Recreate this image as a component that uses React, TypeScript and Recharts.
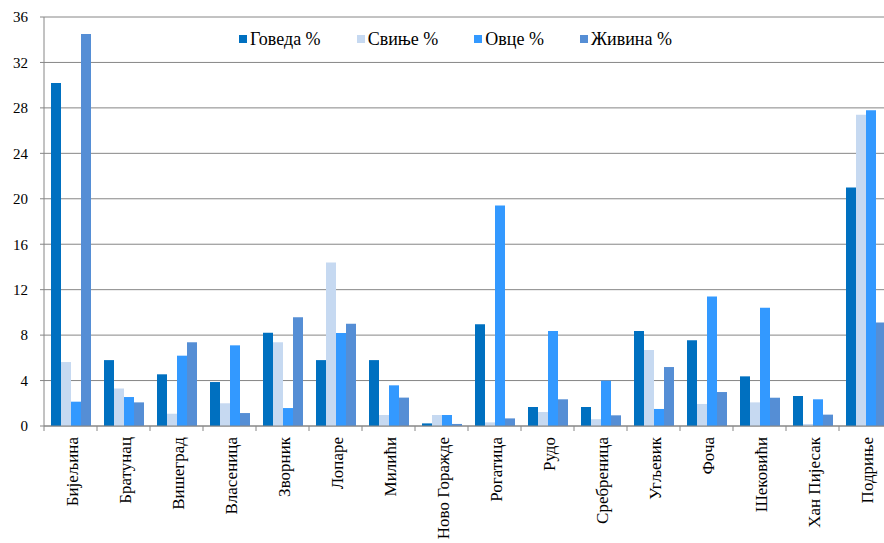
import { BarChart, Bar, XAxis, YAxis, CartesianGrid } from 'recharts';

const municipalities = [
  'Бијељина', 'Братунац', 'Вишеград', 'Власеница', 'Зворник', 'Лопаре', 'Милићи', 'Ново Горажде',
  'Рогатица', 'Рудо', 'Сребреница', 'Угљевик', 'Фоча', 'Шековићи', 'Хан Пијесак', 'Подриње',
];

const cattle = [30.2, 5.8, 4.55, 3.87, 8.2, 5.8, 5.8, 0.23, 8.95, 1.67, 1.67, 8.36, 7.54, 4.37, 2.64, 21.0];
const pigs = [5.63, 3.3, 1.08, 2.0, 7.37, 14.4, 0.97, 0.97, 0.32, 1.23, 0.6, 6.69, 1.94, 2.08, 0.18, 27.4];
const sheep = [2.14, 2.55, 6.19, 7.1, 1.58, 8.19, 3.58, 0.97, 19.4, 8.36, 3.99, 1.5, 11.4, 10.4, 2.35, 27.8];
const poultry = [34.5, 2.08, 7.37, 1.14, 9.57, 9.0, 2.5, 0.18, 0.67, 2.35, 0.94, 5.19, 2.99, 2.49, 1.0, 9.1];

const yTicks = [0, 4, 8, 12, 16, 20, 24, 28, 32, 36];

const series = [
  { key: 'cattle', name: 'Говеда %', color: '#0070C0' },
  { key: 'pigs', name: 'Свиње %', color: '#C6D9F1' },
  { key: 'sheep', name: 'Овце %', color: '#3399FF' },
  { key: 'poultry', name: 'Живина %', color: '#558ED5' },
];

const data = municipalities.map((name, i) => ({
  name,
  cattle: cattle[i],
  pigs: pigs[i],
  sheep: sheep[i],
  poultry: poultry[i],
}));

const FONT = 'Liberation Serif, DejaVu Serif, serif';
const CHART_W = 892;
const CHART_H = 543;
const Y_AXIS_W = 44;
const BAND = (CHART_W - Y_AXIS_W) / municipalities.length;
const AXIS_GRAY = '#868686';

function MunicipalityTick({ x, y, payload, index }: any) {
  const half = BAND / 2;
  const tx = x + 7.5;
  const ty = y + 11;
  return (
    <g>
      <line x1={x - half} x2={x - half} y1={y} y2={y + 5} stroke={AXIS_GRAY} />
      {index === municipalities.length - 1 && (
        <line x1={x + half} x2={x + half} y1={y} y2={y + 5} stroke={AXIS_GRAY} />
      )}
      <text
        x={tx}
        y={ty}
        transform={`rotate(-90, ${tx}, ${ty})`}
        textAnchor="end"
        style={{ fontFamily: FONT, fontSize: 17 }}
        fill="#000"
      >
        {payload.value}
      </text>
    </g>
  );
}

export default function App() {
  return (
    <div
      style={{
        position: 'absolute',
        top: 0,
        left: 0,
        width: 884,
        height: 543,
        overflow: 'hidden',
        background: '#fff',
        fontFamily: FONT,
      }}
    >
      <BarChart
        width={CHART_W}
        height={CHART_H}
        data={data}
        margin={{ top: 17, right: 0, bottom: 0, left: 0 }}
        barCategoryGap={7}
        barGap={0}
        style={{ fontFamily: FONT }}
      >
        <CartesianGrid vertical={false} stroke={AXIS_GRAY} />
        <XAxis
          dataKey="name"
          height={117}
          interval={0}
          tickLine={false}
          tickSize={0}
          tickMargin={0}
          axisLine={{ stroke: AXIS_GRAY }}
          tick={<MunicipalityTick />}
        />
        <YAxis
          width={Y_AXIS_W}
          domain={[0, 36]}
          ticks={yTicks}
          interval={0}
          tickSize={4}
          tickMargin={12}
          axisLine={{ stroke: AXIS_GRAY }}
          tickLine={{ stroke: AXIS_GRAY }}
          tick={{ fontSize: 15, fontFamily: FONT, fill: '#000' }}
        />
        {series.map(s => (
          <Bar key={s.key} dataKey={s.key} name={s.name} fill={s.color} isAnimationActive={false} />
        ))}
      </BarChart>

      {/* legend sits inside the plot area */}
      <div
        style={{
          position: 'absolute',
          top: 29,
          left: 239,
          height: 20,
          display: 'flex',
          alignItems: 'center',
          fontFamily: FONT,
          fontSize: 18,
          color: '#000',
          whiteSpace: 'nowrap',
        }}
      >
        {series.map(s => (
          <div key={s.key} style={{ display: 'flex', alignItems: 'center', marginRight: 36 }}>
            <span style={{ width: 8, height: 8, background: s.color, marginRight: 3 }} />
            <span>{s.name}</span>
          </div>
        ))}
      </div>
    </div>
  );
}
